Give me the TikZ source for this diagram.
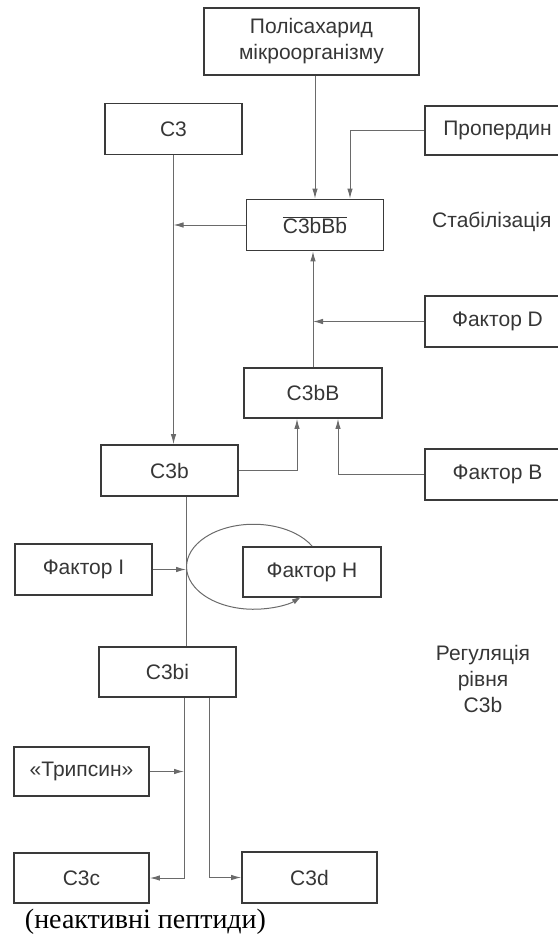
\documentclass[tikz,border=0pt]{standalone}
\usepackage{fontspec}
\setmainfont{Liberation Sans}
\newfontfamily\serifpept{Liberation Serif}
\usepackage{xcolor}
\usepackage{tikz}
\usetikzlibrary{arrows.meta}
\definecolor{trait}{HTML}{6A6A6A}
\definecolor{cadre}{HTML}{3A3A3A}
\definecolor{encre}{HTML}{363636}
\tikzset{
  boite/.style={draw=cadre,line width=1.7pt,minimum width=137pt,minimum height=51pt,
    inner sep=0pt,text=encre,font=\fontsize{21}{26}\selectfont},
  legende/.style={inner sep=0pt,text=encre,font=\fontsize{21}{26}\selectfont},
  fleche/.style={draw=trait,line width=1pt,-{Latex[length=10pt,width=5.5pt]}},
  liaison/.style={draw=trait,line width=1pt}
}

\begin{document}
\begin{tikzpicture}[x=1pt,y=-1pt]
\useasboundingbox (0,0) rectangle (557,942);
\node[boite,minimum width=215pt,minimum height=67pt,align=center] (poly) at (311.5,41.5) {Полісахарид\\мікроорганізму};
\node[boite] (c3) at (173.5,129) {C3};
\node[boite,minimum width=145pt,minimum height=49pt] (prop) at (497.5,130.5) {Пропердин};
\node[boite] (cbbb) at (315,225) {$\overline{\hbox{C3bBb}}$};
\node[legende,anchor=west] (stab) at (432,222) {Стабілізація};
\node[boite,minimum width=145pt] (facD) at (497.5,321.5) {Фактор D};
\node[boite,minimum width=138pt,minimum height=50pt] (cbb) at (313,393) {C3bB};
\node[boite] (c3b) at (169.5,470.5) {C3b};
\node[boite,minimum width=145pt] (facB) at (497.5,474.5) {Фактор B};
\node[boite] (facI) at (83.5,569.5) {Фактор I};
\node[boite,minimum width=138pt,minimum height=50pt] (facH) at (312,572) {Фактор H};
\node[boite,minimum height=50pt] (c3bi) at (167.5,672) {C3bi};
\node[legende,align=center] (regul) at (483,679) {Регуляція\\рівня\\C3b};
\node[boite,minimum width=135pt,minimum height=49pt] (tryp) at (81.5,771.5) {«Трипсин»};
\node[boite,minimum width=135pt,minimum height=50pt] (c3c) at (81.5,878) {C3c};
\node[boite,minimum width=135pt] (c3d) at (309.5,877.5) {C3d};
\node[inner sep=0pt,font=\serifpept\fontsize{28}{30}\selectfont] (pept) at (145.5,922) {(неактивні пептиди)};
\coordinate (axe) at ([xshift=16.5pt]c3b.south);
\coordinate (axebas) at ([xshift=16.5pt]c3bi.south);
\coordinate (axed) at ([xshift=41.5pt]c3bi.south);
\draw[fleche] (cbbb.north |- poly.south) -- (cbbb.north);
\draw[fleche] (prop.west) -| ([xshift=35pt]cbbb.north);
\draw[fleche] (cbbb.west) -- (cbbb.west -| c3.south);
\draw[fleche] (c3.south) -- (c3.south |- c3b.north);
\draw[fleche] (cbb.north) -- (cbb.north |- cbbb.south);
\draw[fleche] (facD.west) -- (facD.west -| cbb.north);
\draw[fleche] (c3b.east) -| ([xshift=-16pt]cbb.south);
\draw[fleche] (facB.west) -| ([xshift=25pt]cbb.south);
\draw[liaison] (axe) -- (axe |- c3bi.north);
\draw[fleche] (facI.east) -- (facI.east -| axe);
\draw[fleche] ([xshift=70pt]facH.north west) arc[start angle=-29,end angle=-316,x radius=67,y radius=42.5];
\draw[fleche] (tryp.east) -- (tryp.east -| axebas);
\draw[fleche] (axebas) |- (c3c.east);
\draw[fleche] (axed) |- (c3d.west);
\end{tikzpicture}
\end{document}
